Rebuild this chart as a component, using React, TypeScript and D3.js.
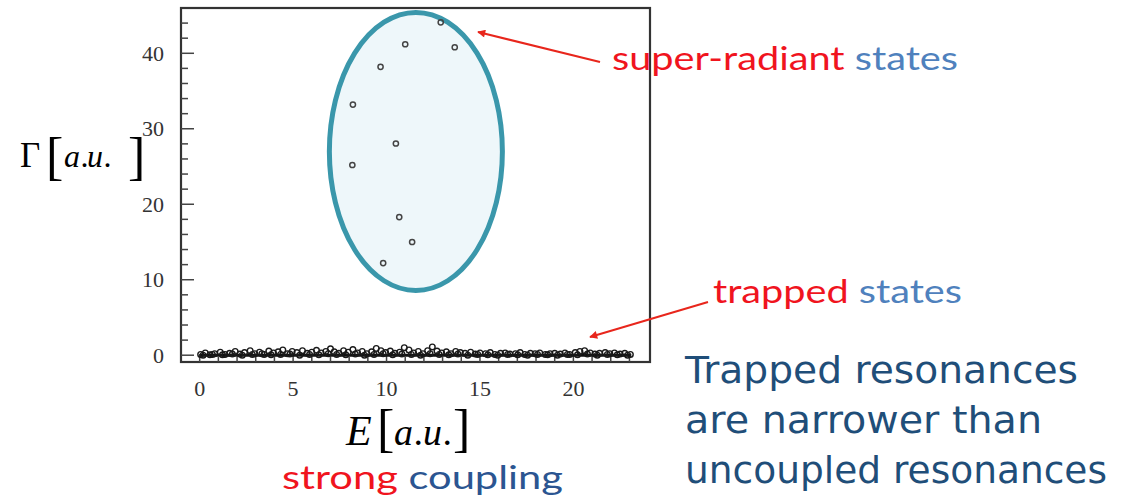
import React from "react";
import * as d3 from "d3";

const xTicks = [0, 5, 10, 15, 20];
const yTicks = [0, 10, 20, 30, 40];

// super-radiant states (E, Gamma)
const superE = [12.9, 11.0, 13.65, 9.68, 8.2, 10.5, 8.17, 10.68, 11.37, 9.82];
const superG = [44.1, 41.2, 40.8, 38.2, 33.2, 28.05, 25.2, 18.3, 15.0, 12.2];

// trapped states (E, Gamma)
const trappedE = [
  0.05, 0.3, 0.55, 0.8, 1.1, 1.35, 1.6, 1.9, 2.15, 2.4, 2.7, 2.95, 3.2, 3.45, 3.7, 3.95,
  4.2, 4.45, 4.7, 4.95, 5.2, 5.5, 5.75, 6.0, 6.25, 6.5, 6.75, 7.0, 7.2, 7.45, 7.7, 7.95,
  8.2, 8.45, 8.7, 8.95, 9.2, 9.45, 9.7, 9.95, 10.2, 10.45, 10.7, 10.95, 11.2, 11.45, 11.7,
  11.95, 12.2, 12.45, 12.7, 12.95, 13.2, 13.45, 13.7, 13.95, 14.2, 14.5, 14.75, 15.0, 15.3,
  15.55, 15.8, 16.1, 16.35, 16.6, 16.9, 17.15, 17.4, 17.7, 17.95, 18.2, 18.5, 18.75, 19.0,
  19.3, 19.55, 19.8, 20.1, 20.35, 20.6, 20.9, 21.15, 21.4, 21.7, 21.95, 22.2, 22.5, 22.75, 23.05,
  0.18, 0.68, 1.22, 1.75, 2.28, 2.82, 3.33, 3.82, 4.33, 4.83, 5.35, 5.88, 6.38, 6.88, 7.33,
  7.82, 8.33, 8.82, 9.33, 9.82, 10.33, 10.82, 11.33, 11.82, 12.33, 12.82, 13.33, 13.82, 14.35,
  14.88, 15.42, 15.95, 16.48, 17.02, 17.55, 18.08, 18.62, 19.15, 19.68, 20.22, 20.75, 21.28,
  21.82, 22.35, 22.9,
];
const trappedG = [
  0.1, 0.3, 0.05, 0.2, 0.4, 0.1, 0.25, 0.5, 0.15, 0.35, 0.6, 0.2, 0.4, 0.1, 0.55, 0.3,
  0.45, 0.7, 0.2, 0.5, 0.35, 0.6, 0.25, 0.4, 0.65, 0.3, 0.5, 0.85, 0.45, 0.25, 0.6, 0.4,
  0.75, 0.3, 0.5, 0.2, 0.45, 0.9, 0.6, 0.35, 0.55, 0.25, 0.4, 1.0, 0.7, 0.3, 0.5, 0.2,
  0.6, 1.1, 0.55, 0.3, 0.45, 0.2, 0.5, 0.35, 0.25, 0.4, 0.15, 0.3, 0.2, 0.35, 0.1, 0.25,
  0.3, 0.15, 0.2, 0.35, 0.1, 0.25, 0.2, 0.3, 0.1, 0.2, 0.25, 0.15, 0.3, 0.1, 0.35, 0.5,
  0.6, 0.3, 0.15, 0.25, 0.35, 0.2, 0.3, 0.15, 0.25, 0.1,
  0.0, 0.1, 0.05, 0.15, 0.0, 0.1, 0.2, 0.05, 0.1, 0.15, 0.0, 0.1, 0.05, 0.2, 0.1,
  0.05, 0.15, 0.0, 0.1, 0.2, 0.05, 0.15, 0.1, 0.0, 0.2, 0.1, 0.05, 0.15, 0.0,
  0.1, 0.05, 0.0, 0.1, 0.05, 0.0, 0.1, 0.05, 0.0, 0.1, 0.05, 0.15, 0.0,
  0.1, 0.05, 0.0,
];

// highlight ellipse in data units: [cx, cy, rx, ry]
const ellipseData = [11.57, 26.99, 4.63, 18.42];

export default function App() {
  const left = 181, right = 650, top = 8, bottom = 362;
  const x = d3.scaleLinear().domain([-1, 24.1]).range([left, right]);
  const y = d3.scaleLinear().domain([-0.9, 46]).range([bottom, top]);

  const xMinor = d3.range(0, 24, 1);
  const yMinor = d3.range(0, 46, 2);

  const [ecx, ecy, erx, ery] = ellipseData;
  const red = "#e8261c";
  const serif = "'Liberation Serif', 'Times New Roman', serif";
  const sans = "Lato, 'Open Sans', sans-serif";

  return (
    <svg
      width={1128}
      height={503}
      style={{ position: "absolute", left: 0, top: 0, background: "#fff" }}
    >
      <defs>
        <marker id="ah" viewBox="0 0 10 10" refX="9" refY="5" markerWidth="9" markerHeight="8" orient="auto" markerUnits="userSpaceOnUse">
          <path d="M0,0 L10,5 L0,10 z" fill={red} />
        </marker>
      </defs>

      {/* frame */}
      <rect x={left} y={top} width={right - left} height={bottom - top} fill="#fff" stroke="#333" strokeWidth={2.2} />

      {/* y ticks */}
      {yMinor.map((v) => (
        <line key={"ym" + v} x1={left} x2={left + (v % 10 === 0 ? 13 : 7)} y1={y(v)} y2={y(v)} stroke="#444" strokeWidth={1.5} />
      ))}
      {/* x ticks */}
      {xMinor.map((v) => (
        <line key={"xm" + v} x1={x(v)} x2={x(v)} y1={bottom} y2={bottom - (v % 5 === 0 ? 8 : 5)} stroke="#444" strokeWidth={1.5} />
      ))}

      {yTicks.map((v) => (
        <text key={"yl" + v} x={164} y={y(v)} dy="0.35em" textAnchor="end" fontFamily={serif} fontSize={22} fill="#333">
          {v}
        </text>
      ))}
      {xTicks.map((v) => (
        <text key={"xl" + v} x={x(v)} y={396} textAnchor="middle" fontFamily={serif} fontSize={22} fill="#333">
          {v}
        </text>
      ))}

      {/* ellipse */}
      <ellipse
        cx={x(ecx)}
        cy={y(ecy)}
        rx={x(ecx + erx) - x(ecx)}
        ry={y(ecy) - y(ecy + ery)}
        fill="#eef7fa"
        stroke="#3a97ab"
        strokeWidth={5}
      />

      {/* trapped points */}
      <line x1={x(0)} x2={x(23.1)} y1={y(0)} y2={y(0)} stroke="#111" strokeWidth={3} />
      {trappedE.map((e, i) => (
        <circle key={"t" + i} cx={x(e)} cy={y(trappedG[i])} r={2.8} fill="none" stroke="#1a1a1a" strokeWidth={1.4} />
      ))}

      {/* super-radiant points */}
      {superE.map((e, i) => (
        <circle key={"s" + i} cx={x(e)} cy={y(superG[i])} r={2.6} fill="none" stroke="#444" strokeWidth={1.5} />
      ))}

      {/* axis titles */}
      <text y={167} fontFamily={serif} fill="#000" fontSize={32}>
        <tspan x={20} fontSize={35}>Γ</tspan>
        <tspan x={46} dy={7} fontSize={52}>[</tspan>
        <tspan x={64} dy={-7} fontStyle="italic">a</tspan>
        <tspan x={80.5}>.</tspan>
        <tspan x={87} fontStyle="italic">u</tspan>
        <tspan x={103.5}>.</tspan>
        <tspan x={128} dy={7} fontSize={52}>]</tspan>
      </text>

      <text y={445} fontFamily={serif} fill="#000" fontSize={38}>
        <tspan x={346} fontSize={42} fontStyle="italic">E</tspan>
        <tspan x={377} dy={1} fontSize={52}>[</tspan>
        <tspan x={394} dy={-1} fontStyle="italic">a</tspan>
        <tspan x={413.5}>.</tspan>
        <tspan x={423} fontStyle="italic">u</tspan>
        <tspan x={442.5}>.</tspan>
        <tspan x={453} dy={1} fontSize={52}>]</tspan>
      </text>

      {/* annotations */}
      <text x={282} y={489} fontFamily={sans} fontSize={33} textLength={281} lengthAdjust="spacingAndGlyphs">
        <tspan fill="#f0141e">strong </tspan>
        <tspan fill="#2b5591">coupling</tspan>
      </text>

      <line x1={600} y1={62} x2={478} y2={32} stroke={red} strokeWidth={2} markerEnd="url(#ah)" />
      <text x={612} y={70} fontFamily={sans} fontSize={32} textLength={346} lengthAdjust="spacingAndGlyphs">
        <tspan fill="#f0141e">super-radiant </tspan>
        <tspan fill="#4f81bd">states</tspan>
      </text>

      <line x1={708} y1={302} x2={590} y2={337} stroke={red} strokeWidth={2} markerEnd="url(#ah)" />
      <text x={713} y={303} fontFamily={sans} fontSize={32} textLength={249} lengthAdjust="spacingAndGlyphs">
        <tspan fill="#f0141e">trapped </tspan>
        <tspan fill="#4f81bd">states</tspan>
      </text>

      <g fontFamily="'Comic Sans MS', 'DejaVu Sans', sans-serif" fontSize={38} fill="#1f4e79">
        <text x={685} y={383} textLength={393} lengthAdjust="spacingAndGlyphs">Trapped resonances</text>
        <text x={685} y={433} textLength={357} lengthAdjust="spacingAndGlyphs">are narrower than</text>
        <text x={685} y={483} textLength={422} lengthAdjust="spacingAndGlyphs">uncoupled resonances</text>
      </g>
    </svg>
  );
}
